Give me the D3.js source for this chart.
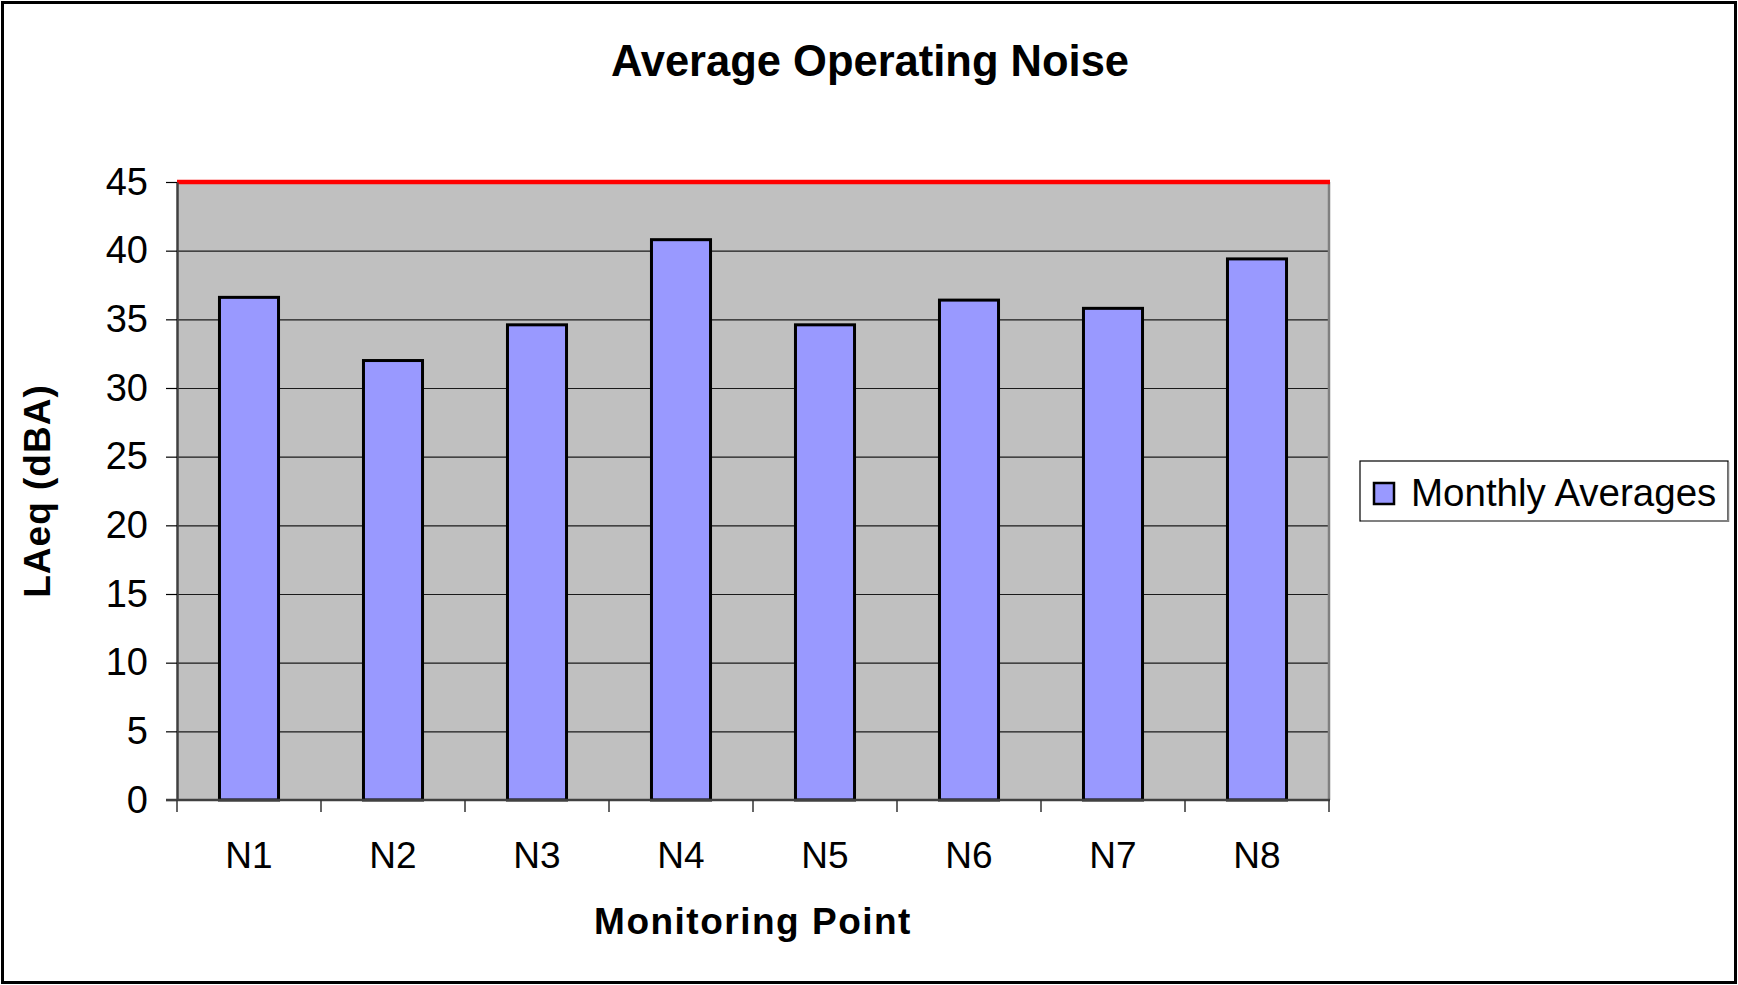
<!DOCTYPE html>
<html>
<head>
<meta charset="utf-8">
<script src="https://cdnjs.cloudflare.com/ajax/libs/d3/7.8.5/d3.min.js"></script>
<style>
  body { margin: 0; background: #fff; }
  svg { display: block; font-family: "Liberation Sans", Arial, sans-serif; }
</style>
</head>
<body>
<div id="chart"></div>
<script>
// data
var points = ["N1", "N2", "N3", "N4", "N5", "N6", "N7", "N8"];
var monthlyAverages = [36.6, 32.0, 34.6, 40.8, 34.6, 36.4, 35.8, 39.4];
var yTicks = [0, 5, 10, 15, 20, 25, 30, 35, 40, 45];
var limitValue = 45;
var seriesName = "Monthly Averages";

var width = 1738;
var height = 985;
var plotLeft = 177, plotRight = 1329, plotTop = 182, plotBottom = 800;

var svg = d3.select("#chart").append("svg")
    .attr("width", width)
    .attr("height", height);

// outer frame
svg.append("rect")
    .attr("x", 2.5).attr("y", 2.5)
    .attr("width", width - 5).attr("height", height - 5)
    .attr("fill", "#fff")
    .attr("stroke", "#000")
    .attr("stroke-width", 3);

var x = d3.scaleBand()
    .domain(points)
    .range([plotLeft, plotRight])
    .paddingInner(0.59)
    .paddingOuter(0.295);

var y = d3.scaleLinear()
    .domain([0, 45])
    .range([plotBottom, plotTop]);

// plot area
svg.append("rect")
    .attr("x", plotLeft).attr("y", plotTop)
    .attr("width", plotRight - plotLeft).attr("height", plotBottom - plotTop)
    .attr("fill", "#c0c0c0");

// gridlines
svg.append("g")
    .selectAll("line")
    .data(yTicks.filter(d => d > 0 && d < 45))
    .enter().append("line")
    .attr("x1", plotLeft).attr("x2", plotRight)
    .attr("y1", d => y(d) + 0.5).attr("y2", d => y(d) + 0.5)
    .attr("stroke", "#1a1a1a")
    .attr("stroke-width", 1.2);

// right border of plot
svg.append("line")
    .attr("x1", plotRight).attr("x2", plotRight)
    .attr("y1", plotTop).attr("y2", plotBottom)
    .attr("stroke", "#808080")
    .attr("stroke-width", 2.5);

// bars
svg.append("g")
    .selectAll("rect")
    .data(points)
    .enter().append("rect")
    .attr("x", d => x(d))
    .attr("y", (d, i) => y(monthlyAverages[i]))
    .attr("width", x.bandwidth())
    .attr("height", (d, i) => y(0) - y(monthlyAverages[i]))
    .attr("fill", "#9999ff")
    .attr("stroke", "#000")
    .attr("stroke-width", 3);

// limit line
svg.append("line")
    .attr("x1", plotLeft).attr("x2", plotRight + 1)
    .attr("y1", y(limitValue)).attr("y2", y(limitValue))
    .attr("stroke", "#ff0000")
    .attr("stroke-width", 4.5);

// y axis
var yAxis = svg.append("g")
    .attr("transform", `translate(${plotLeft}, 0)`)
    .call(d3.axisLeft(y).tickValues(yTicks).tickSize(11).tickPadding(18).tickSizeOuter(0));
yAxis.select(".domain").attr("stroke", "#404040").attr("stroke-width", 2.5);
yAxis.selectAll(".tick line").attr("stroke", "#000").attr("stroke-width", 1.2);
yAxis.selectAll("text")
    .attr("font-size", 38)
    .attr("font-family", "Liberation Sans, Arial, sans-serif")
    .attr("fill", "#000");

// x axis line and boundary ticks
svg.append("line")
    .attr("x1", plotLeft - 11).attr("x2", plotRight + 1)
    .attr("y1", plotBottom).attr("y2", plotBottom)
    .attr("stroke", "#404040")
    .attr("stroke-width", 2.5);

svg.append("g")
    .selectAll("line")
    .data(d3.range(points.length + 1))
    .enter().append("line")
    .attr("x1", i => plotLeft + i * x.step()).attr("x2", i => plotLeft + i * x.step())
    .attr("y1", plotBottom).attr("y2", plotBottom + 12)
    .attr("stroke", "#333")
    .attr("stroke-width", 1.5);

svg.append("g")
    .selectAll("text")
    .data(points)
    .enter().append("text")
    .attr("x", d => x(d) + x.bandwidth() / 2)
    .attr("y", 868)
    .attr("text-anchor", "middle")
    .attr("font-size", 37)
    .text(d => d);

// titles
svg.append("text")
    .attr("x", 870)
    .attr("y", 76)
    .attr("text-anchor", "middle")
    .attr("font-size", 43.5)
    .attr("font-weight", "bold")
    .text("Average Operating Noise");

svg.append("text")
    .attr("x", (plotLeft + plotRight) / 2)
    .attr("y", 934)
    .attr("text-anchor", "middle")
    .attr("font-size", 37)
    .attr("font-weight", "bold")
    .attr("letter-spacing", "1.5px")
    .text("Monitoring Point");

svg.append("text")
    .attr("transform", `translate(50, ${(plotTop + plotBottom) / 2}) rotate(-90)`)
    .attr("text-anchor", "middle")
    .attr("font-size", 37)
    .attr("font-weight", "bold")
    .attr("letter-spacing", "1px")
    .text("LAeq (dBA)");

// legend
var legend = svg.append("g");
legend.append("rect")
    .attr("x", 1360).attr("y", 461)
    .attr("width", 368).attr("height", 60)
    .attr("fill", "#fff")
    .attr("stroke", "#000")
    .attr("stroke-width", 1.2);
legend.append("line")
    .attr("x1", 1361).attr("x2", 1729)
    .attr("y1", 521).attr("y2", 521)
    .attr("stroke", "#808080").attr("stroke-width", 2);
legend.append("line")
    .attr("x1", 1728.5).attr("x2", 1728.5)
    .attr("y1", 462).attr("y2", 522)
    .attr("stroke", "#808080").attr("stroke-width", 1.5);
legend.append("rect")
    .attr("x", 1374).attr("y", 483)
    .attr("width", 20).attr("height", 21)
    .attr("fill", "#9999ff")
    .attr("stroke", "#000")
    .attr("stroke-width", 2.5);
legend.append("text")
    .attr("x", 1411)
    .attr("y", 506)
    .attr("font-size", 38.5)
    .text(seriesName);
</script>
</body>
</html>
